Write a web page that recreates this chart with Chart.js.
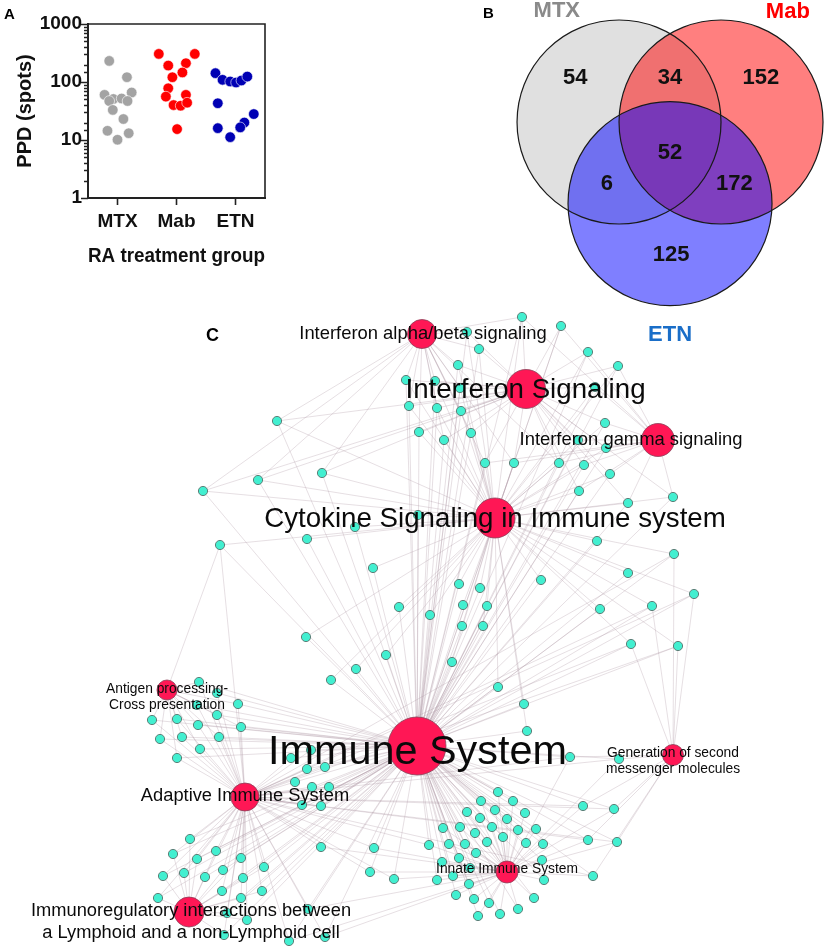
<!DOCTYPE html>
<html><head><meta charset="utf-8">
<script src="https://cdn.jsdelivr.net/npm/chart.js@4.4.0/dist/chart.umd.min.js"></script>
<style>
html,body{margin:0;padding:0;background:#fff;width:827px;height:949px;overflow:hidden}
canvas{position:absolute;display:block}
</style></head><body>
<canvas id="cC" width="827" height="659" style="left:0;top:290px"></canvas>
<canvas id="cB" width="347" height="345" style="left:480px;top:0"></canvas>
<canvas id="cA" width="290" height="280" style="left:0;top:0"></canvas>
<script>
// ---------------- Panel A data ----------------
const groupsA = ['MTX', 'Mab', 'ETN'];
const mtxValues = [231, 121, 66, 60, 51, 52, 47, 47, 33, 23, 14.4, 13.1, 10.1];
const mtxJitter = [-0.14, 0.16, 0.24, -0.22, -0.07, 0.07, -0.14, 0.17, -0.08, 0.10, -0.17, 0.19, 0.0];
const mabValues = [305, 305, 192, 211, 146, 121, 78, 60, 56, 40, 39, 44, 15.4];
const mabJitter = [-0.30, 0.31, -0.14, 0.16, 0.10, -0.07, -0.14, 0.16, -0.18, -0.05, 0.07, 0.18, 0.01];
const etnValues = [142, 109, 102, 98, 106, 124, 43, 28, 20, 16, 16.5, 11.2];
const etnJitter = [-0.34, -0.22, -0.09, 0.01, 0.10, 0.20, -0.30, 0.31, 0.15, -0.30, 0.08, -0.09];
const yTickLabels = [1, 10, 100, 1000];

// ---------------- Panel B data ----------------
const vennSets = ['MTX', 'Mab', 'ETN'];
const vennRegionCounts = [54, 34, 152, 52, 6, 172, 125];

// ---------------- Panel C data ----------------
const hubLabels = [
  ['Immune System'],
  ['Cytokine Signaling in Immune system'],
  ['Interferon Signaling'],
  ['Interferon alpha/beta signaling'],
  ['Interferon gamma signaling'],
  ['Adaptive Immune System'],
  ['Antigen processing-', 'Cross presentation'],
  ['Immunoregulatory interactions between', 'a Lymphoid and a non-Lymphoid cell'],
  ['Innate Immune System'],
  ['Generation of second', 'messenger molecules']
];
const hubX = [417, 495, 526, 422, 658, 245, 167, 189, 507, 673];
const hubY = [746, 518, 389, 334, 440, 797, 690, 912, 872, 755];

const nodesIfnAlpha = [[406,380],[409,406],[419,432],[467,332],[479,349],[458,365],[435,381],[460,388],[437,408],[461,411],[444,440],[471,433],[277,421],[258,480],[203,491],[322,473]];
const nodesIfnGamma = [[561,326],[588,352],[618,366],[595,387],[605,423],[578,440],[606,448],[584,465],[610,474],[579,491],[628,503],[673,497]];
const nodesIfnBoth = [[522,317],[485,463],[514,463],[559,463]];
const nodesCytokine = [[418,515],[355,527],[307,539],[373,568],[399,607],[430,615],[306,637],[386,655],[356,669],[331,680],[541,580],[459,584],[480,588],[463,605],[487,606],[462,626],[483,626],[452,662],[498,687],[524,704],[527,731],[597,541],[628,573],[600,609]];
const nodesCytokineAntigen = [[220,545]];
const nodesCytokineSecond = [[674,554],[694,594],[652,606],[631,644],[678,646]];
const nodesAntigen = [[199,682],[217,693],[197,705],[238,704],[217,715],[152,720],[177,719],[198,725],[241,727],[160,739],[182,737],[219,737],[200,749],[177,758]];
const nodesAdaptive = [[291,758],[311,750],[307,769],[325,767],[295,782],[312,787],[329,787],[302,805],[321,806]];
const nodesImmunoreg = [[190,839],[173,854],[216,851],[197,859],[241,858],[264,867],[163,876],[184,873],[205,877],[223,870],[243,878],[222,891],[262,891],[158,898],[241,898],[227,913],[247,920],[224,935]];
const nodesInnateAdaptive = [[321,847],[374,848],[429,845],[370,872],[394,879],[308,909],[289,941],[325,937]];
const nodesInnate = [[498,792],[481,801],[513,801],[467,812],[495,810],[525,813],[480,818],[507,819],[443,828],[460,827],[475,833],[492,827],[518,830],[536,829],[503,837],[449,844],[465,844],[487,842],[526,843],[543,844],[476,853],[442,862],[459,858],[542,860],[470,868],[453,876],[437,880],[544,880],[469,884],[456,895],[474,899],[489,903],[534,898],[518,909],[478,916],[500,914]];
const nodesSecondMessenger = [[570,757],[619,759],[583,806],[614,809],[588,840],[617,842],[593,876]];

// membership: which pathway hubs each gene group links to (hub indices)
const linksIfnAlpha = [0, 1, 2, 3];
const linksIfnGamma = [0, 1, 2, 4];
const linksIfnBoth = [0, 1, 2, 3, 4];
const linksCytokine = [0, 1];
const linksCytokineAntigen = [0, 1, 5, 6];
const linksCytokineSecond = [0, 1, 5, 9];
const linksAntigen = [0, 5, 6];
const linksAdaptive = [0, 5];
const linksImmunoreg = [0, 5, 7];
const linksInnateAdaptive = [0, 5, 8];
const linksInnate = [0, 8];
const linksSecondMessenger = [0, 5, 8, 9];

// ---------------- common style ----------------
const FONT = 'Arial, "Liberation Sans", Helvetica, sans-serif';
const CAP = 0.716;
function textAt(ctx, txt, cx, cy, size, weight, color, align) {
  ctx.font = (weight || 'normal') + ' ' + size + 'px ' + FONT;
  ctx.fillStyle = color || '#000';
  ctx.textAlign = align || 'center';
  ctx.textBaseline = 'alphabetic';
  ctx.fillText(txt, cx, cy + CAP * size / 2);
}

// ================= Panel A =================
const isPow10 = v => Math.abs(Math.log10(v) - Math.round(Math.log10(v))) < 1e-9;
const frameA = {
  id: 'frameA',
  afterDraw(chart) {
    const {ctx, chartArea: a, scales: {y}} = chart;
    ctx.save();
    ctx.strokeStyle = '#222';
    ctx.lineWidth = 1.6;
    ctx.beginPath();
    ctx.moveTo(a.left, a.top); ctx.lineTo(a.right, a.top); ctx.lineTo(a.right, a.bottom);
    ctx.stroke();
    ctx.lineWidth = 1.5;
    y.ticks.forEach(t => {
      const py = Math.round(y.getPixelForValue(t.value)) + 0.5;
      const len = isPow10(t.value) ? 7 : 4;
      ctx.beginPath(); ctx.moveTo(a.left - len, py); ctx.lineTo(a.left, py); ctx.stroke();
    });
    textAt(ctx, 'A', 4, 13.5, 15, 'bold', '#000', 'left');
    ctx.restore();
  }
};
const ptStyle = (c) => ({backgroundColor: c, borderColor: 'rgba(255,255,255,0.6)', borderWidth: 1, pointRadius: 5.3});
new Chart(document.getElementById('cA'), {
  type: 'scatter',
  data: {datasets: [
    Object.assign({label: 'MTX', data: mtxValues.map((v, i) => ({x: 0 + mtxJitter[i], y: v}))}, ptStyle('#a3a3a3')),
    Object.assign({label: 'Mab', data: mabValues.map((v, i) => ({x: 1 + mabJitter[i], y: v}))}, ptStyle('#ff0000')),
    Object.assign({label: 'ETN', data: etnValues.map((v, i) => ({x: 2 + etnJitter[i], y: v}))}, ptStyle('#0000b4'))
  ]},
  options: {
    responsive: false, animation: false, events: [],
    layout: {autoPadding: false, padding: {left: 0, top: 24, right: 25, bottom: 0}},
    plugins: {legend: {display: false}, tooltip: {enabled: false}},
    scales: {
      x: {
        type: 'linear', min: -0.5, max: 2.5,
        afterBuildTicks: s => { s.ticks = groupsA.map((g, i) => ({value: i})); },
        afterFit: s => { s.height = 82; },
        ticks: {callback: v => groupsA[v], autoSkip: false, maxRotation: 0, padding: 5, color: '#111',
                font: {family: FONT, size: 19, weight: 'bold'}},
        grid: {drawOnChartArea: false, drawTicks: true, tickLength: 7, tickWidth: 1.6, tickColor: '#222'},
        border: {display: true, color: '#222', width: 2},
        title: {display: true, text: 'RA treatment group', color: '#111',
                font: {family: FONT, size: 21, weight: 'bold'}, padding: {top: 0, bottom: 11}}
      },
      y: {
        type: 'logarithmic', min: 1, max: 1000,
        afterFit: s => { s.width = 88; },
        ticks: {callback: v => (isPow10(v) && yTickLabels.includes(Math.round(v))) ? String(Math.round(v)) : '',
                autoSkip: false, padding: 6, color: '#111', font: {family: FONT, size: 19, weight: 'bold'}},
        grid: {drawOnChartArea: false, drawTicks: false},
        border: {display: true, color: '#222', width: 2},
        title: {display: true, text: 'PPD (spots)', color: '#111',
                font: {family: FONT, size: 20, weight: 'bold'}, padding: {top: 13, bottom: 0}}
      }
    }
  },
  plugins: [frameA]
});

// ================= Panel B =================
const vennCenters = [[-0.5, 0], [0.5, 0], [0, -0.8]];
const vennFill = ['#e0e0e0', 'rgba(255,0,0,0.5)', 'rgba(0,0,255,0.5)'];
const vennCountPos = [[-0.93, 0.45], [0, 0.45], [0.89, 0.45], [0, -0.29], [-0.62, -0.59], [0.63, -0.59], [0.01, -1.29]];
const vennSetLabelPos = [[-1.11, 1.105], [1.155, 1.10], [0.0, -2.07]];
const vennSetColor = ['#8a8a8a', '#ff0000', '#1a6ec8'];
const unitPx = chart => chart.scales.x.getPixelForValue(1) - chart.scales.x.getPixelForValue(0);
const vennText = {
  id: 'vennText',
  afterDatasetsDraw(chart) {
    const {ctx, scales: {x, y}} = chart;
    ctx.save();
    vennRegionCounts.forEach((n, i) => {
      textAt(ctx, String(n), x.getPixelForValue(vennCountPos[i][0]), y.getPixelForValue(vennCountPos[i][1]), 22, 'bold', '#111');
    });
    vennSets.forEach((s, i) => {
      textAt(ctx, s, x.getPixelForValue(vennSetLabelPos[i][0]), y.getPixelForValue(vennSetLabelPos[i][1]), 22, 'bold', vennSetColor[i]);
    });
    textAt(ctx, 'B', 3, 13, 15, 'bold', '#000', 'left');
    ctx.restore();
  }
};
new Chart(document.getElementById('cB'), {
  type: 'scatter',
  data: {datasets: [
    {data: vennCenters.map(c => ({x: c[0], y: c[1]})), backgroundColor: vennFill, borderWidth: 0,
     pointRadius: ctx => unitPx(ctx.chart), order: 2},
    {data: vennCenters.map(c => ({x: c[0], y: c[1]})), backgroundColor: 'rgba(0,0,0,0)', borderColor: '#1a1a1a', borderWidth: 1.2,
     pointRadius: ctx => unitPx(ctx.chart), order: 1}
  ]},
  options: {
    responsive: false, animation: false, events: [],
    layout: {autoPadding: false, padding: 0},
    plugins: {legend: {display: false}, tooltip: {enabled: false}},
    scales: {
      x: {type: 'linear', display: false, min: -1.863, max: 1.539},
      y: {type: 'linear', display: false, min: -2.186, max: 1.196}
    }
  },
  plugins: [vennText]
});

// ================= Panel C =================
const geneGroups = [
  [nodesIfnAlpha, linksIfnAlpha], [nodesIfnGamma, linksIfnGamma], [nodesIfnBoth, linksIfnBoth],
  [nodesCytokine, linksCytokine], [nodesCytokineAntigen, linksCytokineAntigen], [nodesCytokineSecond, linksCytokineSecond],
  [nodesAntigen, linksAntigen], [nodesAdaptive, linksAdaptive], [nodesImmunoreg, linksImmunoreg],
  [nodesInnateAdaptive, linksInnateAdaptive], [nodesInnate, linksInnate], [nodesSecondMessenger, linksSecondMessenger]
];
const allGenes = [];
const edgeData = [];
geneGroups.forEach(([nodes, links]) => {
  nodes.forEach(n => {
    allGenes.push({x: n[0], y: n[1]});
    links.forEach(h => {
      edgeData.push({x: hubX[h], y: hubY[h]}, {x: n[0], y: n[1]}, {x: null, y: null});
    });
  });
});
const hubRadius = [29, 20, 19.5, 14.5, 16.5, 14, 10, 15, 11, 10.5];
// label style: font size, x offset, baseline offsets for each line
const hubLabelStyle = [
  {size: 41.4, dx: 0.5, dy: [17.5]},
  {size: 27.7, dx: 0, dy: [9]},
  {size: 27.7, dx: -0.5, dy: [9]},
  {size: 18.4, dx: 1, dy: [5.3]},
  {size: 18.4, dx: -27, dy: [5]},
  {size: 18.3, dx: 0, dy: [4]},
  {size: 13.8, dx: 0, dy: [2.7, 19.3]},
  {size: 18.3, dx: 2, dy: [3.7, 26]},
  {size: 13.8, dx: 0, dy: [1]},
  {size: 13.8, dx: 0, dy: [2.3, 18.3]}
];
const netLabels = {
  id: 'netLabels',
  afterDatasetsDraw(chart) {
    const {ctx, scales: {x, y}} = chart;
    ctx.save();
    ctx.fillStyle = '#0a0a0a';
    ctx.textAlign = 'center';
    ctx.textBaseline = 'alphabetic';
    hubLabels.forEach((lines, i) => {
      const st = hubLabelStyle[i];
      ctx.font = st.size + 'px ' + FONT;
      const px = x.getPixelForValue(hubX[i]) + st.dx;
      const py = y.getPixelForValue(hubY[i]);
      lines.forEach((ln, j) => ctx.fillText(ln, px, py + st.dy[j]));
    });
    ctx.font = 'bold 18px ' + FONT;
    ctx.textAlign = 'left';
    ctx.fillStyle = '#000';
    ctx.fillText('C', 206, 340.7 - 290);
    ctx.restore();
  }
};
new Chart(document.getElementById('cC'), {
  type: 'scatter',
  data: {datasets: [
    {data: edgeData, showLine: true, spanGaps: false, pointRadius: 0, borderColor: 'rgba(172,150,162,0.38)', borderWidth: 0.8, order: 3},
    {data: allGenes, backgroundColor: '#42efd0', borderColor: '#5d7f78', borderWidth: 1, pointRadius: 4.6, order: 2},
    {data: hubX.map((v, i) => ({x: v, y: hubY[i]})), backgroundColor: '#ff1755', borderColor: '#8a4058', borderWidth: 0.8,
     pointRadius: ctx => hubRadius[ctx.dataIndex], order: 1}
  ]},
  options: {
    responsive: false, animation: false, events: [],
    layout: {autoPadding: false, padding: 0},
    plugins: {legend: {display: false}, tooltip: {enabled: false}},
    scales: {
      x: {type: 'linear', display: false, min: 0, max: 827},
      y: {type: 'linear', display: false, min: 290, max: 949, reverse: true}
    }
  },
  plugins: [netLabels]
});
</script>
</body></html>
